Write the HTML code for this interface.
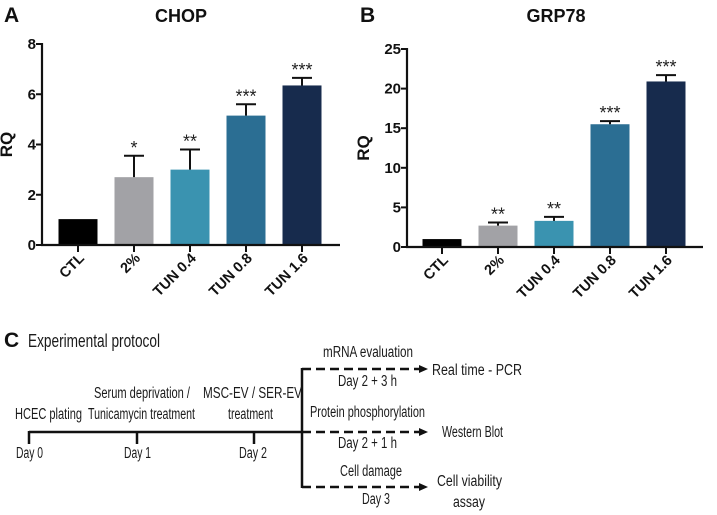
<!DOCTYPE html>
<html><head><meta charset="utf-8"><style>
html,body{margin:0;padding:0;background:#fff;}
svg{display:block;font-family:"Liberation Sans",Arial,sans-serif;}
</style></head><body>
<svg id="fig" width="717" height="515" viewBox="0 0 717 515">
<g id="panelA"></g>
<g id="panelB"></g>
<g id="panelC" font-size="15.5" fill="#1a1a1a">
  <text x="4" y="347" font-size="21" font-weight="bold" fill="#111">C</text>
  <text x="28" y="347" font-size="18.5" textLength="132" lengthAdjust="spacingAndGlyphs">Experimental protocol</text>
  <g stroke="#111" stroke-width="2.5" fill="none">
    <line x1="29" y1="432" x2="302" y2="432"/>
    <line x1="29" y1="431" x2="29" y2="444"/>
    <line x1="137" y1="431" x2="137" y2="444"/>
    <line x1="254" y1="431" x2="254" y2="444"/>
    <line x1="302" y1="368" x2="302" y2="488"/>
    <line x1="302" y1="369" x2="420" y2="369" stroke-dasharray="9,5"/>
    <line x1="302" y1="432" x2="420" y2="432" stroke-dasharray="9,5"/>
    <line x1="302" y1="487" x2="420" y2="487" stroke-dasharray="9,5"/>
  </g>
  <g fill="#111">
    <polygon points="419,365 428,369 419,373"/>
    <polygon points="419,428 428,432 419,436"/>
    <polygon points="419,483 428,487 419,491"/>
  </g>
  <text x="15" y="419" textLength="67" lengthAdjust="spacingAndGlyphs">HCEC plating</text>
  <text x="94" y="398" textLength="96" lengthAdjust="spacingAndGlyphs">Serum deprivation /</text>
  <text x="88" y="419" textLength="107" lengthAdjust="spacingAndGlyphs">Tunicamycin treatment</text>
  <text x="203" y="398" textLength="99" lengthAdjust="spacingAndGlyphs">MSC-EV / SER-EV</text>
  <text x="228" y="419" textLength="45" lengthAdjust="spacingAndGlyphs">treatment</text>
  <text x="16" y="458" textLength="27" lengthAdjust="spacingAndGlyphs">Day 0</text>
  <text x="124" y="458" textLength="27" lengthAdjust="spacingAndGlyphs">Day 1</text>
  <text x="239" y="458" textLength="28" lengthAdjust="spacingAndGlyphs">Day 2</text>
  <text x="323" y="357" textLength="90" lengthAdjust="spacingAndGlyphs">mRNA evaluation</text>
  <text x="338" y="386" textLength="59" lengthAdjust="spacingAndGlyphs">Day 2 + 3 h</text>
  <text x="310" y="417" textLength="115" lengthAdjust="spacingAndGlyphs">Protein phosphorylation</text>
  <text x="338" y="448" textLength="59" lengthAdjust="spacingAndGlyphs">Day 2 + 1 h</text>
  <text x="340" y="476" textLength="62" lengthAdjust="spacingAndGlyphs">Cell damage</text>
  <text x="362" y="504" textLength="28" lengthAdjust="spacingAndGlyphs">Day 3</text>
  <text x="432" y="375" textLength="90" lengthAdjust="spacingAndGlyphs">Real time - PCR</text>
  <text x="442" y="437" textLength="61" lengthAdjust="spacingAndGlyphs">Western Blot</text>
  <text x="437" y="486" textLength="65" lengthAdjust="spacingAndGlyphs">Cell viability</text>
  <text x="453" y="507" textLength="32" lengthAdjust="spacingAndGlyphs">assay</text>
</g>
</svg>
<script>
const categories = ["CTL","2%","TUN 0.4","TUN 0.8","TUN 1.6"];
const chopValues = [1.03, 2.7, 3.0, 5.15, 6.35];
const chopErrors = [0, 0.85, 0.8, 0.45, 0.3];
const chopSig = ["", "*", "**", "***", "***"];
const chopTicks = [0, 2, 4, 6, 8];
const grpValues = [1.0, 2.7, 3.3, 15.5, 20.9];
const grpErrors = [0, 0.4, 0.5, 0.4, 0.8];
const grpSig = ["", "**", "**", "***", "***"];
const grpTicks = [0, 5, 10, 15, 20, 25];
const colors = ["#000000","#a2a2a6","#3a93b0","#2b6e93","#172b4d"];
const NS = "http://www.w3.org/2000/svg";
function mk(parent, tag, attrs, text){
  const e = document.createElementNS(NS, tag);
  for (const k in attrs) e.setAttribute(k, attrs[k]);
  if (text !== undefined) e.textContent = text;
  parent.appendChild(e); return e;
}
function drawChart(g, cfg){
  const yScale = v => cfg.y0 - (v / cfg.max) * (cfg.y0 - cfg.yTop);
  const xCenter = i => cfg.x0 + i * cfg.step;
  const letter = mk(g, "text", {x: cfg.letterX, y: 22, "font-size": 21, "font-weight": "bold", fill: "#111"}, cfg.letter);
  
  
  const title = mk(g, "text", {x: cfg.titleX, y: 22, "font-size": 18, "font-weight": "bold", "text-anchor": "middle", fill: "#111"}, cfg.title);
  
  
  const yt = mk(g, "text", {x: 0, y: 0, "font-size": 17, "font-weight": "bold", "text-anchor": "middle", fill: "#111", transform: `translate(${cfg.axisX - cfg.ytOff},${(cfg.y0 + cfg.yTop) / 2}) rotate(-90)`}, "RQ");
  
  
  cfg.values.forEach((v, i) => {
    const cx = xCenter(i), top = yScale(v);
    const bar = mk(g, "rect", {x: cx - cfg.bw / 2, y: top, width: cfg.bw, height: cfg.y0 - top, fill: colors[i]});
    
    
    if (cfg.errors[i] > 0){
      const et = yScale(v + cfg.errors[i]);
      const eb = mk(g, "path", {d: `M${cx},${top} V${et} M${cx - 10},${et} H${cx + 10}`, stroke: "#111", "stroke-width": 2, fill: "none"});
      
      
    }
    if (cfg.sig[i]){
      const ev = yScale(v + cfg.errors[i]);
      const s = mk(g, "text", {x: cx, y: ev - 2, "font-size": 18, "text-anchor": "middle", fill: "#222"}, cfg.sig[i]);
      
      
    }
    const tk = mk(g, "line", {x1: cx, y1: cfg.y0, x2: cx, y2: cfg.y0 + 7, stroke: "#111", "stroke-width": 2});
    
    
    const lab = mk(g, "text", {x: 0, y: 0, "font-size": 14.5, "font-weight": "bold", "text-anchor": "end", fill: "#111", transform: `translate(${cx + 7},${cfg.y0 + 14}) rotate(-45)`}, categories[i]);
    
    
  });
  const ya = mk(g, "line", {x1: cfg.axisX, y1: cfg.yTop - 1, x2: cfg.axisX, y2: cfg.y0 + 1, stroke: "#111", "stroke-width": 2.2});
  
  
  const xa = mk(g, "line", {x1: cfg.axisX - 1, y1: cfg.y0, x2: cfg.xEnd, y2: cfg.y0, stroke: "#111", "stroke-width": 2.2});
  
  
  cfg.ticks.forEach(t => {
    const y = yScale(t);
    const l = mk(g, "line", {x1: cfg.axisX - 6, y1: y, x2: cfg.axisX, y2: y, stroke: "#111", "stroke-width": 2});
    
    
    const tx = mk(g, "text", {x: cfg.axisX - 6, y: y + 5, "font-size": 15, "font-weight": "bold", "text-anchor": "end", fill: "#111"}, String(t));
    
    
  });
}
drawChart(document.getElementById("panelA"), {
  letter: "A", letterX: 4, title: "CHOP", titleX: 181,
  values: chopValues, errors: chopErrors, sig: chopSig, ticks: chopTicks, max: 8,
  axisX: 42, y0: 245, yTop: 44, xEnd: 340, x0: 78, step: 56, bw: 39, ytOff: 30
});
drawChart(document.getElementById("panelB"), {
  letter: "B", letterX: 360, title: "GRP78", titleX: 556,
  values: grpValues, errors: grpErrors, sig: grpSig, ticks: grpTicks, max: 25,
  axisX: 407, y0: 247, yTop: 49, xEnd: 703, x0: 442, step: 56, bw: 39, ytOff: 38
});
</script>
</body></html>
